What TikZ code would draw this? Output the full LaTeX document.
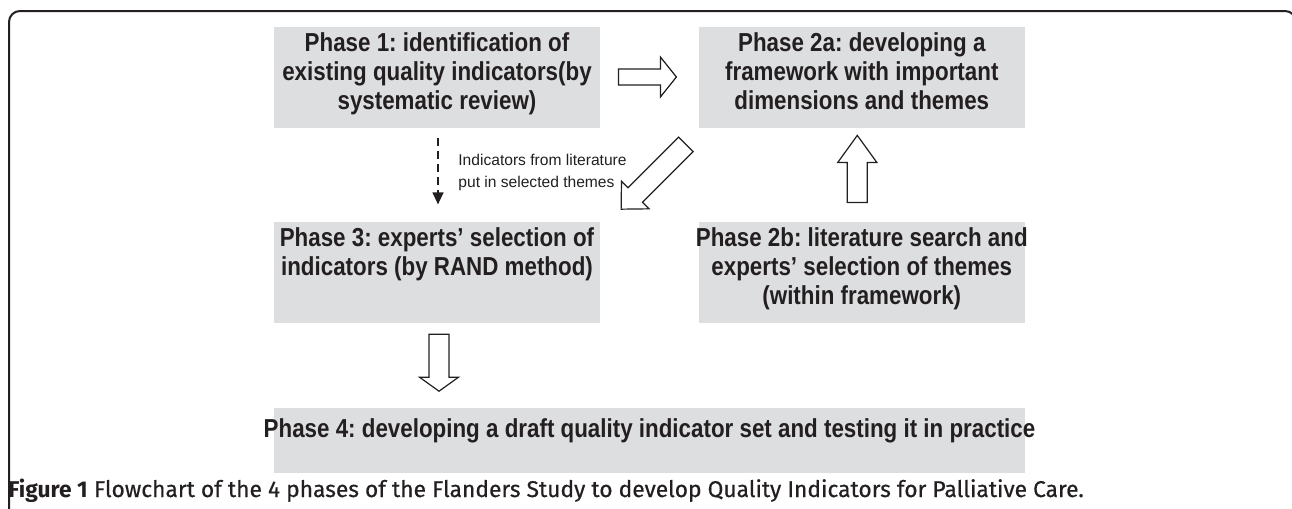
\documentclass[tikz,border=0pt]{standalone}
\usepackage{fontspec}
\setmainfont{Liberation Sans}
\newfontfamily\boxfont[FakeStretch=0.86]{Liberation Sans}
\newfontfamily\capfont{Fira Sans}
\newfontfamily\capmed[FakeBold=0.5]{Fira Sans}
\usetikzlibrary{positioning,calc,arrows.meta}
\definecolor{boxgray}{RGB}{221,222,224}
\definecolor{ink}{RGB}{35,31,32}
\frenchspacing
\tikzset{
  phase/.style={fill=boxgray, inner sep=0pt, minimum width=163pt, minimum height=50.5pt},
  phasetext/.style={anchor=north, align=center, inner sep=0pt, text=ink,
    font=\boxfont\bfseries\fontsize{13}{14.5}\selectfont},
  hollow/.style={draw=ink, fill=white, line width=0.6pt, line join=miter},
  dasharrow/.style={draw=ink, line width=0.6pt, dash pattern=on 4pt off 2.5pt,
    -{Triangle[width=5.5pt,length=6pt]}}
}
% fat hollow arrow along +x: length, shaft half width, head half width, head length
\newcommand{\blockarrow}[4]{%
  \draw[hollow] (0,-#2) -- ({#1-#4},-#2) -- ({#1-#4},-#3) -- (#1,0)
    -- ({#1-#4},#3) -- ({#1-#4},#2) -- (0,#2) -- cycle;}

\begin{document}
\begin{tikzpicture}[x=0.5pt, y=0.5pt, node distance=46.5pt and 49pt]
  \useasboundingbox (0,0) rectangle (1292,-509);
  % frame
  \draw[line width=1pt, draw=ink, rounded corners=5.5pt]
    (9,-530) -- (9,-11) -- (1296,-11) -- (1296,-530);

  % boxes
  \node[phase] (p1) at (437,-77.5) {};
  \node[phase, right=of p1] (p2a) {};
  \node[phase, below=of p1] (p3) {};
  \node[phase, below=of p2a] (p2b) {};
  \node[phase, minimum width=375.5pt, minimum height=32.5pt, anchor=north west]
    (p4) at ([yshift=-42pt]p3.south west) {};

  \node[phasetext] (t1) at ([yshift=-3pt]p1.north)
    {Phase 1: identification of\\existing quality indicators(by\\systematic review)};
  \node[phasetext] (t2a) at ([yshift=-3pt]p2a.north)
    {Phase 2a: developing a\\framework with important\\dimensions and themes};
  \node[phasetext] (t3) at ([yshift=-3pt]p3.north)
    {Phase 3: experts’ selection of\\indicators (by RAND method)};
  \node[phasetext] (t2b) at ([yshift=-3pt]p2b.north)
    {Phase 2b: literature search and\\experts’ selection of themes\\(within framework)};
  \node[phasetext] (t4) at ([yshift=-5.5pt]p4.north)
    {Phase 4: developing a draft quality indicator set and testing it in practice};

  % arrows
  \begin{scope}[shift={([xshift=9pt,yshift=0.25pt]p1.east)}]
    \blockarrow{58}{8}{20}{16}
  \end{scope}
  \begin{scope}[shift={([xshift=-6.25pt,yshift=-8pt]p2a.south west)}, rotate=225]
    \blockarrow{91.6}{10.25}{19.5}{20}
  \end{scope}
  \begin{scope}[shift={([xshift=-2.25pt,yshift=9.5pt]p2b.north)}, rotate=90]
    \blockarrow{67}{10}{19.5}{27}
  \end{scope}
  \begin{scope}[shift={([xshift=1pt,yshift=-5.5pt]p3.south)}, rotate=-90]
    \blockarrow{57}{10}{19.5}{14}
  \end{scope}

  \draw[dasharrow] ([xshift=0.5pt,yshift=-5pt]p1.south) -- ([xshift=0.5pt,yshift=8.5pt]p3.north);
  \node[anchor=west, align=left, inner sep=0pt, text=ink, font=\fontsize{7.8}{11}\selectfont]
    (lbl) at (458,-172) {Indicators from literature\\put in selected themes};

  % caption
  \node[anchor=base west, inner sep=0pt, text=ink, font=\fontsize{11.4}{13}\selectfont] (cap) at (8,-497)
    {{\capfont\bfseries Figure 1} {\capmed Flowchart of the 4 phases of the Flanders Study to develop Quality Indicators for Palliative Care.}};
\end{tikzpicture}
\end{document}
